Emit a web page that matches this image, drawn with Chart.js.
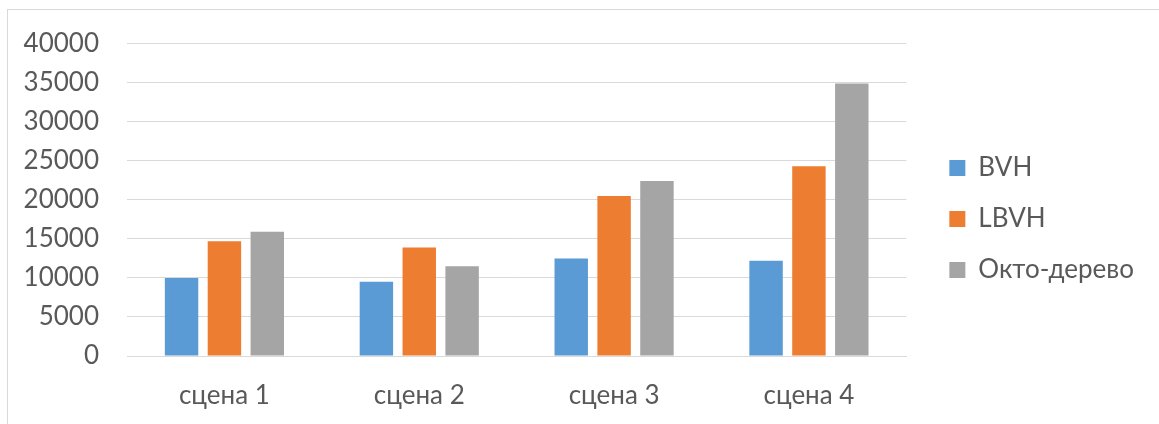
<!DOCTYPE html>
<html>
<head>
<meta charset="utf-8">
<script src="https://cdn.jsdelivr.net/npm/chart.js@4.4.1/dist/chart.umd.min.js"></script>
<style>
  html, body { margin: 0; padding: 0; background: #fff; }
  #wrap { position: relative; width: 1159px; height: 424px; }
  #frame { position: absolute; left: 7px; top: 9px; width: 1160px; height: 430px; border: 1px solid #d9d9d9; box-sizing: border-box; }
  canvas { position: absolute; left: 0; top: 0; }
</style>
</head>
<body>
<div id="wrap">
  <div id="frame"></div>
  <canvas id="mainChart" width="1159" height="424"></canvas>
</div>
<script>
const SCENES = ['сцена 1', 'сцена 2', 'сцена 3', 'сцена 4'];
const BVH = [10000, 9500, 12500, 12200];
const LBVH = [14700, 13900, 20500, 24300];
const OCTREE = [15900, 11500, 22400, 34900];
const Y_TICKS = [0, 5000, 10000, 15000, 20000, 25000, 30000, 35000, 40000];

const TEXT = '#595959';
const FONT = { family: 'Lato, "Liberation Sans", sans-serif', size: 26 };

// empty axis used only as spacing
function spacer(position, size) {
    return {
        position: position, display: true,
        grid: { display: false, drawTicks: false },
        border: { display: false },
        ticks: { display: false },
        afterFit: s => { if (position === 'top') s.height = size; else s.width = size; }
    };
}

function initChart() {
    const ctx = document.getElementById('mainChart').getContext('2d');
    new Chart(ctx, {
        type: 'bar',
        data: {
            labels: SCENES,
            datasets: [
                { label: 'BVH', data: BVH, backgroundColor: '#5B9BD5' },
                { label: 'LBVH', data: LBVH, backgroundColor: '#ED7D31' },
                { label: 'Окто-дерево', data: OCTREE, backgroundColor: '#A5A5A5' }
            ]
        },
        options: {
            responsive: false,
            animation: false,
            layout: { padding: { left: 0, top: 14, right: 15, bottom: 0 } },
            datasets: { bar: { categoryPercentage: 0.66, barPercentage: 0.78 } },
            plugins: {
                tooltip: { enabled: false },
                legend: {
                    position: 'right',
                    maxWidth: 320,
                    labels: { boxWidth: 16, boxHeight: 16, padding: 25, color: TEXT, font: FONT }
                }
            },
            scales: {
                x: {
                    grid: { display: false, drawTicks: false },
                    border: { color: '#d9d9d9' },
                    ticks: { color: TEXT, font: FONT, padding: 24 },
                    afterFit: s => { s.height = 68; }
                },
                y: {
                    min: 0, max: 40000,
                    afterBuildTicks: s => { s.ticks = Y_TICKS.map(v => ({ value: v })); },
                    grid: { color: '#d9d9d9', drawTicks: false },
                    border: { display: false },
                    ticks: { color: TEXT, font: FONT, padding: 28, callback: v => String(v) },
                    afterFit: s => { s.width = 127; }
                },
                xTop: spacer('top', 27),
                yRight: spacer('right', 18)
            }
        }
    });
}
initChart();
</script>
</body>
</html>
